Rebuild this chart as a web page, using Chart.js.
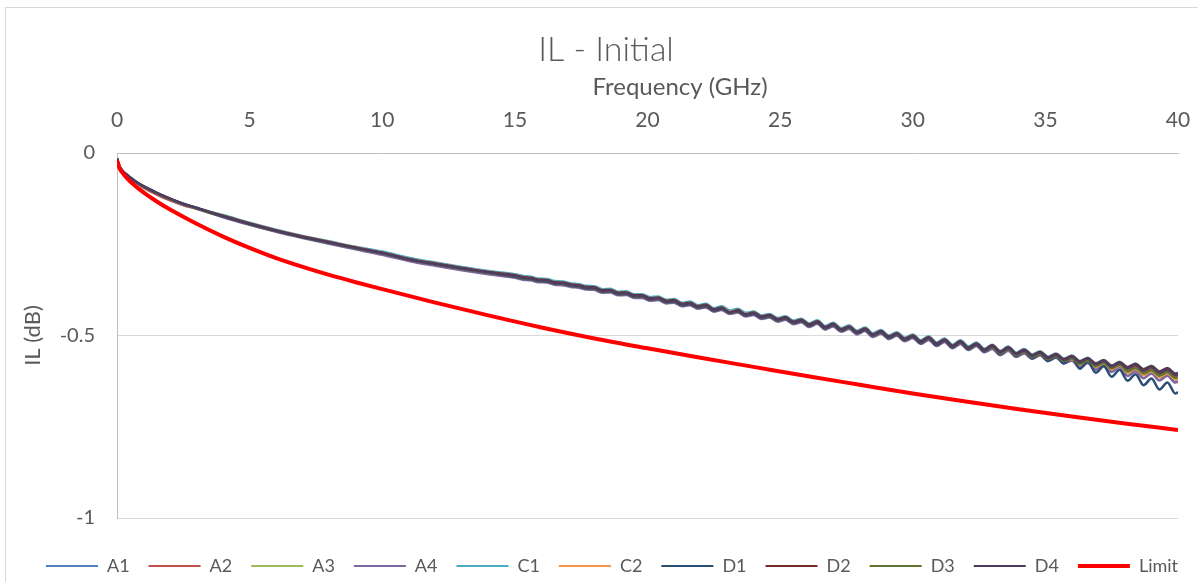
<!DOCTYPE html>
<html><head><meta charset="utf-8">
<script src="https://cdn.jsdelivr.net/npm/chart.js@4.4.1/dist/chart.umd.min.js"></script>
<style>
html,body{margin:0;padding:0;background:#fff;overflow:hidden;width:1198px;height:582px}
#frame{position:absolute;left:5px;top:7px;width:1300px;height:700px;border:1px solid #d9d9d9;box-sizing:border-box}
#c{position:absolute;left:0;top:0}
</style></head><body>
<div id="frame"></div>
<canvas id="c" width="1198" height="582"></canvas>
<script>
const chartTitle = 'IL - Initial';
const xAxisTitle = 'Frequency (GHz)';
const yAxisTitle = 'IL (dB)';
const xTickLabels = ['0','5','10','15','20','25','30','35','40'];
const yTickLabels = ['-1','-0.5','0'];

const freqGHz = [0,0.05,0.1,0.2,0.35,0.5,0.75,1,1.5,2,2.5,3,3.5,4,5,6,7,8,9,10,11,12,13,14,
15,15.3,15.6,15.9,16.2,16.5,16.8,17.1,17.4,17.7,18,18.3,18.6,18.9,19.2,19.5,19.8,20.1,20.4,20.7,
21,21.3,21.6,21.9,22.2,22.5,22.8,23.1,23.4,23.7,24,24.3,24.6,24.9,25.2,25.5,25.8,26.1,26.4,26.7,
27,27.3,27.6,27.9,28.2,28.5,28.8,29.1,29.4,29.7,30,30.3,30.6,30.9,31.2,31.5,31.8,32.1,32.4,32.7,
33,33.3,33.6,33.9,34.2,34.5,34.8,35.1,35.4,35.7,36,36.3,36.6,36.9,37.2,37.5,37.8,38.1,38.4,38.7,
39,39.3,39.6,39.9,40];

const A1 = [-0.015,-0.029,-0.038,-0.049,-0.059,-0.068,-0.081,-0.092,-0.110,-0.126,-0.140,-0.151,-0.162,-0.172,-0.193,-0.212,-0.229,-0.244,-0.259,-0.273,-0.290,-0.303,-0.315,-0.326,
-0.335,-0.340,-0.342,-0.347,-0.348,-0.354,-0.355,-0.360,-0.362,-0.367,
-0.368,-0.376,-0.375,-0.383,-0.382,-0.390,-0.390,-0.398,-0.396,-0.405,
-0.403,-0.413,-0.410,-0.420,-0.416,-0.428,-0.423,-0.434,-0.430,-0.441,
-0.437,-0.448,-0.444,-0.455,-0.450,-0.462,-0.457,-0.470,-0.461,-0.477,
-0.468,-0.483,-0.475,-0.490,-0.481,-0.497,-0.488,-0.503,-0.494,-0.509,
-0.500,-0.516,-0.505,-0.522,-0.511,-0.528,-0.516,-0.533,-0.522,-0.539,
-0.530,-0.547,-0.535,-0.552,-0.542,-0.557,-0.548,-0.563,-0.554,-0.568,
-0.560,-0.575,-0.566,-0.581,-0.572,-0.587,-0.577,
-0.592,-0.583,-0.598,-0.589,-0.604,-0.595,-0.610,-0.608];

const A2 = [-0.015,-0.029,-0.039,-0.050,-0.060,-0.069,-0.083,-0.095,-0.114,-0.130,-0.143,-0.153,-0.164,-0.174,-0.194,-0.213,-0.230,-0.245,-0.260,-0.274,-0.291,-0.304,-0.316,-0.327,
-0.336,-0.341,-0.343,-0.348,-0.349,-0.355,-0.356,-0.361,-0.363,-0.368,
-0.369,-0.377,-0.376,-0.384,-0.383,-0.391,-0.391,-0.399,-0.397,-0.406,
-0.404,-0.416,-0.413,-0.423,-0.419,-0.431,-0.426,-0.437,-0.433,-0.444,
-0.440,-0.451,-0.447,-0.458,-0.453,-0.465,-0.460,-0.473,-0.464,-0.480,
-0.471,-0.486,-0.478,-0.493,-0.484,-0.500,-0.491,-0.506,-0.497,-0.512,
-0.503,-0.519,-0.508,-0.525,-0.514,-0.531,-0.519,-0.536,-0.525,-0.542,
-0.531,-0.548,-0.536,-0.553,-0.543,-0.558,-0.549,-0.564,-0.555,-0.569,
-0.561,-0.576,-0.567,-0.582,-0.573,-0.588,-0.578,
-0.594,-0.585,-0.600,-0.591,-0.606,-0.597,-0.612,-0.610];

const A3 = [-0.015,-0.029,-0.038,-0.049,-0.059,-0.068,-0.081,-0.092,-0.110,-0.126,-0.140,-0.152,-0.164,-0.174,-0.195,-0.214,-0.231,-0.247,-0.262,-0.277,-0.294,-0.307,-0.319,-0.330,
-0.340,-0.345,-0.347,-0.352,-0.353,-0.359,-0.360,-0.365,-0.367,-0.372,
-0.373,-0.381,-0.380,-0.388,-0.387,-0.395,-0.395,-0.403,-0.401,-0.410,
-0.408,-0.418,-0.415,-0.425,-0.421,-0.433,-0.428,-0.439,-0.435,-0.446,
-0.442,-0.453,-0.449,-0.460,-0.455,-0.467,-0.462,-0.475,-0.466,-0.482,
-0.473,-0.488,-0.480,-0.495,-0.486,-0.502,-0.493,-0.508,-0.499,-0.514,
-0.505,-0.521,-0.510,-0.527,-0.516,-0.533,-0.521,-0.538,-0.527,-0.544,
-0.534,-0.551,-0.539,-0.556,-0.546,-0.561,-0.552,-0.567,-0.558,-0.572,
-0.567,-0.582,-0.573,-0.588,-0.579,-0.594,-0.584,
-0.603,-0.594,-0.609,-0.600,-0.615,-0.606,-0.621,-0.619];

const A4 = [-0.015,-0.029,-0.038,-0.049,-0.059,-0.068,-0.081,-0.092,-0.110,-0.127,-0.141,-0.152,-0.164,-0.176,-0.197,-0.216,-0.233,-0.249,-0.264,-0.279,-0.296,-0.309,-0.321,-0.332,
-0.342,-0.347,-0.349,-0.354,-0.355,-0.361,-0.362,-0.367,-0.369,-0.374,
-0.375,-0.383,-0.382,-0.390,-0.389,-0.397,-0.397,-0.405,-0.403,-0.412,
-0.410,-0.420,-0.417,-0.427,-0.423,-0.435,-0.430,-0.441,-0.437,-0.448,
-0.444,-0.455,-0.451,-0.462,-0.457,-0.469,-0.464,-0.477,-0.468,-0.484,
-0.475,-0.490,-0.482,-0.497,-0.488,-0.504,-0.495,-0.510,-0.501,-0.516,
-0.507,-0.523,-0.512,-0.529,-0.518,-0.535,-0.523,-0.540,-0.529,-0.546,
-0.537,-0.554,-0.542,-0.559,-0.549,-0.564,-0.555,-0.570,-0.561,-0.575,
-0.569,-0.588,-0.575,-0.594,-0.581,-0.600,-0.586,
-0.611,-0.598,-0.617,-0.604,-0.623,-0.610,-0.629,-0.626];

const C1 = [-0.015,-0.029,-0.038,-0.049,-0.059,-0.068,-0.081,-0.091,-0.109,-0.125,-0.139,-0.150,-0.161,-0.170,-0.191,-0.210,-0.227,-0.242,-0.257,-0.270,-0.287,-0.300,-0.312,-0.323,
-0.332,-0.337,-0.339,-0.344,-0.345,-0.351,-0.352,-0.357,-0.359,-0.364,
-0.365,-0.373,-0.372,-0.380,-0.379,-0.387,-0.387,-0.395,-0.393,-0.402,
-0.400,-0.410,-0.407,-0.417,-0.413,-0.425,-0.420,-0.431,-0.427,-0.438,
-0.434,-0.445,-0.441,-0.452,-0.447,-0.459,-0.454,-0.467,-0.458,-0.474,
-0.465,-0.480,-0.472,-0.487,-0.478,-0.494,-0.485,-0.500,-0.491,-0.506,
-0.497,-0.513,-0.502,-0.519,-0.508,-0.525,-0.513,-0.530,-0.519,-0.536,
-0.525,-0.542,-0.530,-0.547,-0.537,-0.552,-0.543,-0.558,-0.549,-0.563,
-0.555,-0.570,-0.561,-0.576,-0.567,-0.582,-0.572,
-0.586,-0.577,-0.592,-0.583,-0.598,-0.589,-0.604,-0.602];

const C2 = [-0.015,-0.029,-0.038,-0.049,-0.059,-0.068,-0.081,-0.092,-0.110,-0.126,-0.140,-0.151,-0.162,-0.172,-0.193,-0.212,-0.229,-0.244,-0.259,-0.273,-0.290,-0.303,-0.315,-0.326,
-0.336,-0.341,-0.343,-0.348,-0.349,-0.355,-0.356,-0.361,-0.363,-0.368,
-0.369,-0.377,-0.376,-0.384,-0.383,-0.391,-0.391,-0.399,-0.397,-0.406,
-0.404,-0.414,-0.411,-0.421,-0.417,-0.429,-0.424,-0.435,-0.431,-0.442,
-0.438,-0.451,-0.445,-0.458,-0.451,-0.465,-0.458,-0.473,-0.462,-0.480,
-0.469,-0.486,-0.476,-0.493,-0.482,-0.500,-0.489,-0.506,-0.495,-0.512,
-0.501,-0.519,-0.506,-0.525,-0.512,-0.531,-0.517,-0.536,-0.523,-0.542,
-0.532,-0.549,-0.537,-0.554,-0.544,-0.559,-0.550,-0.565,-0.556,-0.570,
-0.565,-0.580,-0.571,-0.586,-0.577,-0.592,-0.582,
-0.601,-0.592,-0.607,-0.598,-0.613,-0.604,-0.619,-0.617];

const D1 = [-0.015,-0.029,-0.038,-0.049,-0.059,-0.068,-0.081,-0.092,-0.110,-0.126,-0.140,-0.151,-0.163,-0.174,-0.195,-0.214,-0.231,-0.246,-0.261,-0.275,-0.292,-0.305,-0.317,-0.328,
-0.339,-0.344,-0.346,-0.351,-0.352,-0.358,-0.359,-0.364,-0.366,-0.371,
-0.372,-0.380,-0.379,-0.387,-0.386,-0.394,-0.394,-0.402,-0.400,-0.409,
-0.407,-0.417,-0.414,-0.424,-0.420,-0.432,-0.427,-0.438,-0.434,-0.445,
-0.441,-0.452,-0.448,-0.459,-0.454,-0.466,-0.461,-0.474,-0.465,-0.481,
-0.472,-0.487,-0.479,-0.494,-0.485,-0.501,-0.492,-0.507,-0.498,-0.513,
-0.504,-0.521,-0.508,-0.527,-0.514,-0.533,-0.519,-0.538,-0.525,-0.544,
-0.532,-0.551,-0.537,-0.556,-0.544,-0.563,-0.550,-0.570,-0.558,-0.577,
-0.561,-0.591,-0.572,-0.602,-0.584,-0.613,-0.594,
-0.624,-0.606,-0.636,-0.618,-0.648,-0.629,-0.659,-0.655];

const D2 = [-0.015,-0.029,-0.038,-0.049,-0.059,-0.068,-0.081,-0.092,-0.110,-0.126,-0.140,-0.151,-0.162,-0.172,-0.193,-0.212,-0.229,-0.244,-0.259,-0.273,-0.290,-0.303,-0.315,-0.326,
-0.335,-0.340,-0.342,-0.347,-0.348,-0.354,-0.355,-0.360,-0.362,-0.367,
-0.368,-0.376,-0.375,-0.383,-0.382,-0.390,-0.390,-0.398,-0.396,-0.405,
-0.403,-0.413,-0.410,-0.420,-0.416,-0.428,-0.423,-0.438,-0.430,-0.442,
-0.437,-0.448,-0.444,-0.455,-0.450,-0.462,-0.457,-0.470,-0.461,-0.477,
-0.468,-0.483,-0.475,-0.490,-0.481,-0.497,-0.488,-0.503,-0.494,-0.509,
-0.500,-0.516,-0.505,-0.522,-0.511,-0.528,-0.516,-0.533,-0.522,-0.539,
-0.527,-0.544,-0.532,-0.549,-0.539,-0.554,-0.545,-0.560,-0.551,-0.565,
-0.556,-0.571,-0.562,-0.577,-0.568,-0.583,-0.573,
-0.587,-0.578,-0.593,-0.584,-0.599,-0.590,-0.605,-0.603];

const D3 = [-0.015,-0.029,-0.038,-0.049,-0.059,-0.068,-0.081,-0.092,-0.110,-0.126,-0.140,-0.151,-0.163,-0.173,-0.195,-0.214,-0.231,-0.246,-0.261,-0.275,-0.292,-0.305,-0.317,-0.328,
-0.338,-0.343,-0.345,-0.350,-0.351,-0.357,-0.358,-0.363,-0.365,-0.370,
-0.371,-0.379,-0.378,-0.386,-0.385,-0.393,-0.393,-0.401,-0.399,-0.408,
-0.406,-0.416,-0.413,-0.423,-0.419,-0.431,-0.426,-0.437,-0.433,-0.444,
-0.440,-0.451,-0.447,-0.458,-0.453,-0.465,-0.460,-0.473,-0.464,-0.480,
-0.471,-0.486,-0.478,-0.493,-0.484,-0.500,-0.491,-0.506,-0.497,-0.512,
-0.503,-0.519,-0.508,-0.525,-0.514,-0.531,-0.519,-0.536,-0.525,-0.542,
-0.532,-0.549,-0.537,-0.554,-0.544,-0.559,-0.550,-0.565,-0.556,-0.570,
-0.563,-0.578,-0.569,-0.584,-0.575,-0.590,-0.580,
-0.598,-0.589,-0.604,-0.595,-0.610,-0.601,-0.616,-0.614];

const D4 = [-0.015,-0.028,-0.037,-0.048,-0.058,-0.067,-0.080,-0.091,-0.109,-0.125,-0.139,-0.150,-0.162,-0.173,-0.194,-0.213,-0.230,-0.245,-0.260,-0.274,-0.291,-0.304,-0.316,-0.327,
-0.337,-0.342,-0.344,-0.349,-0.350,-0.356,-0.357,-0.362,-0.364,-0.369,
-0.370,-0.378,-0.377,-0.385,-0.384,-0.392,-0.392,-0.400,-0.398,-0.407,
-0.405,-0.415,-0.412,-0.422,-0.418,-0.430,-0.425,-0.436,-0.432,-0.443,
-0.439,-0.450,-0.446,-0.457,-0.452,-0.464,-0.459,-0.472,-0.463,-0.479,
-0.470,-0.485,-0.477,-0.492,-0.483,-0.499,-0.490,-0.505,-0.496,-0.511,
-0.502,-0.518,-0.507,-0.524,-0.513,-0.530,-0.518,-0.535,-0.524,-0.541,
-0.529,-0.546,-0.534,-0.551,-0.541,-0.556,-0.547,-0.562,-0.553,-0.567,
-0.558,-0.573,-0.564,-0.579,-0.570,-0.585,-0.575,
-0.590,-0.581,-0.596,-0.587,-0.602,-0.593,-0.608,-0.606];

const limitFreqGHz = [0,0.1,0.25,0.5,1,1.5,2,3,4,5,6,7,8,9,10,12,14,16,18,20,22,24,26,28,30,32,34,36,38,40];
const limitIL = [-0.020,-0.042,-0.058,-0.078,-0.108,-0.133,-0.155,-0.194,-0.229,-0.260,-0.288,-0.312,-0.334,-0.354,-0.373,-0.410,-0.445,-0.478,-0.508,-0.535,-0.561,-0.586,-0.611,-0.635,-0.659,-0.681,-0.702,-0.722,-0.741,-0.759];

const seriesNames = ['A1','A2','A3','A4','C1','C2','D1','D2','D3','D4'];
const seriesValues = [A1,A2,A3,A4,C1,C2,D1,D2,D3,D4];
const seriesColors = ['#4F81BD','#C0504D','#9BBB59','#8064A2','#4BACC6','#F79646','#2C4D75','#772C2A','#5F7530','#4D3B62'];
const limitName = 'Limit';
const limitColor = '#FF0000';

const xTickStep = 5, xMin = 0, xMax = 40;
const yTickStep = 0.5, yMin = -1, yMax = 0;

const FONT = 'Lato, "Open Sans", sans-serif';
const TEXT = '#595959';

const datasets = seriesNames.map((name, i) => ({
  label: name,
  data: freqGHz.map((f, j) => ({x: f, y: seriesValues[i][j]})),
  borderColor: seriesColors[i],
  backgroundColor: seriesColors[i],
  borderWidth: 2.5,
  pointRadius: 0, pointHoverRadius: 0, pointHitRadius: 0,
  pointBorderWidth: 2, pointBorderColor: seriesColors[i], pointBackgroundColor: seriesColors[i],
  cubicInterpolationMode: 'monotone',
  fill: false,
  order: 11 - i
}));
datasets.push({
  label: limitName,
  data: limitFreqGHz.map((f, j) => ({x: f, y: limitIL[j]})),
  borderColor: limitColor, backgroundColor: limitColor,
  borderWidth: 4,
  pointRadius: 0, pointHoverRadius: 0, pointHitRadius: 0,
  pointBorderWidth: 4, pointBorderColor: limitColor, pointBackgroundColor: limitColor,
  cubicInterpolationMode: 'monotone',
  fill: false,
  order: 0
});

const textPlugin = {
  id: 'textPlugin',
  afterLayout(chart) {
    if (chart.legend) { chart.legend.left += 23; chart.legend.right += 23; }
  },
  afterDraw(chart) {
    const ctx = chart.ctx;
    ctx.save();
    ctx.fillStyle = TEXT;
    ctx.textAlign = 'center';
    ctx.textBaseline = 'middle';
    ctx.font = '300 34px ' + FONT;
    ctx.fillText(chartTitle, 606, 50);
    ctx.font = '24px ' + FONT;
    ctx.fillText(xAxisTitle, 680, 87);
    ctx.restore();
  }
};

new Chart(document.getElementById('c'), {
  type: 'line',
  data: {datasets},
  plugins: [textPlugin],
  options: {
    responsive: false,
    animation: false,
    devicePixelRatio: 1,
    events: [],
    layout: {padding: {top: 95, left: 0, right: 20, bottom: 0}},
    plugins: {
      title: {display: false},
      tooltip: {enabled: false},
      legend: {
        position: 'bottom',
        maxHeight: 64,
        title: {display: true, text: ' ', font: {size: 10}, padding: 4},
        labels: {
          usePointStyle: true,
          pointStyle: 'line',
          pointStyleWidth: 52,
          font: {size: 18, family: FONT},
          color: TEXT,
          padding: 19,
          sort: (a, b) => a.datasetIndex - b.datasetIndex
        }
      }
    },
    scales: {
      x: {
        type: 'linear',
        position: 'top',
        min: xMin, max: xMax,
        ticks: {stepSize: xTickStep, font: {size: 21, family: FONT, lineHeight: '66px'}, color: TEXT, padding: 0, maxRotation: 0,
          callback: (v, i) => xTickLabels[i]},
        grid: {color: 'rgba(0,0,0,0)', drawTicks: false},
        border: {display: true, color: '#bfbfbf', width: 1},
        title: {display: false},
        afterFit(scale) { scale.height = 58; }
      },
      y: {
        type: 'linear',
        min: yMin, max: yMax,
        ticks: {stepSize: yTickStep, font: {size: 20, family: FONT}, color: TEXT, padding: 22,
          callback: (v, i) => yTickLabels[i]},
        grid: {color: (c) => (c.tick && c.tick.value === 0) ? 'rgba(0,0,0,0)' : '#d9d9d9', drawTicks: false},
        border: {display: true, color: '#bfbfbf', width: 1},
        title: {display: true, text: yAxisTitle, font: {size: 22, family: FONT}, color: TEXT, padding: {top: 20, bottom: 0}},
        afterFit(scale) { scale.width = 117; }
      }
    }
  }
});
</script>
</body></html>
